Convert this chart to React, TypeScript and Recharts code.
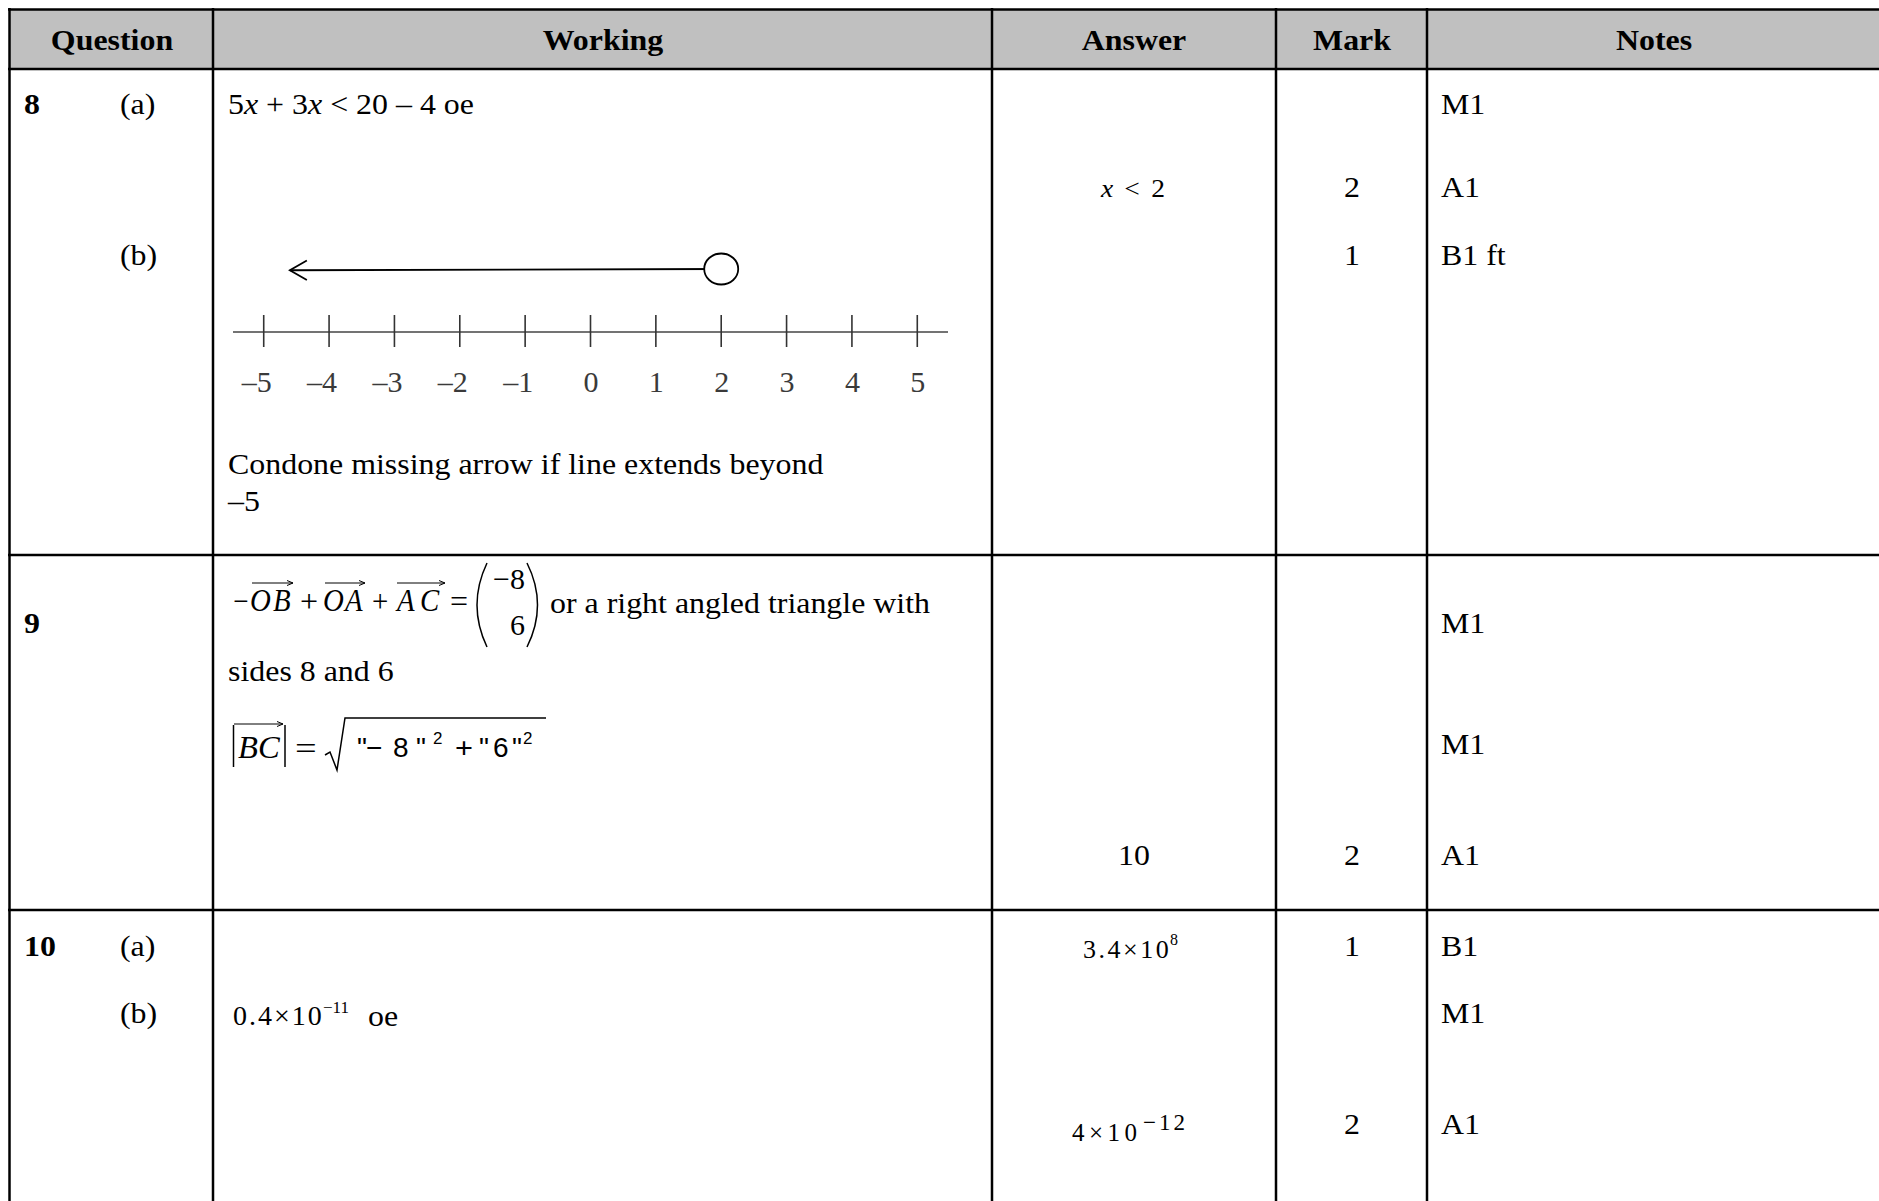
import React from 'react';
import { LineChart, Line, XAxis, YAxis } from 'recharts';

// number line values
const tickValues = [-5, -4, -3, -2, -1, 0, 1, 2, 3, 4, 5];
const tickLabels = ['–5', '–4', '–3', '–2', '–1', '0', '1', '2', '3', '4', '5'];
// solution set x < 2 : arrow tip on the left, open circle at 2
const solutionX = [-4.6, 2];
const solutionY = [0.98, 1];

const headers = ['Question', 'Working', 'Answer', 'Mark', 'Notes'];
const marks8 = ['2', '1'];
const notes8 = ['M1', 'A1', 'B1 ft'];
const notes9 = ['M1', 'M1', 'A1'];
const notes10 = ['B1', 'M1', 'A1'];

const lineData = solutionX.map((x, i) => ({ x, y: solutionY[i] }));

const SERIF = '"Liberation Serif", "Times New Roman", serif';
const SANS = '"Liberation Sans", Arial, sans-serif';

// simple absolutely placed text, y = vertical centre
const T = ({ x, y, children, size = 29, bold = false, italic = false, anchor = 'start', sx = 1.1, family = SERIF, ls = 0 }: any) => {
  const tx = anchor === 'middle' ? '-50%' : anchor === 'end' ? '-100%' : '0';
  const origin = anchor === 'middle' ? 'center' : anchor === 'end' ? 'right' : 'left';
  return (
    <div
      style={{
        position: 'absolute', left: x, top: y, whiteSpace: 'nowrap', fontFamily: family,
        fontSize: size, lineHeight: 1, fontWeight: bold ? 700 : 400, fontStyle: italic ? 'italic' : 'normal',
        color: '#000', letterSpacing: ls, transform: `translate(${tx}, -50%) scaleX(${sx})`, transformOrigin: origin,
      }}
    >
      {children}
    </div>
  );
};

const NumberTick = (props: any) => {
  const { x, y, payload } = props;
  const idx = tickValues.indexOf(payload.value);
  return (
    <g>
      <line x1={x} x2={x} y1={y - 17} y2={y + 15} stroke="#333" strokeWidth={1.6} />
      <text x={x + 8} y={y + 60} textAnchor="end" fontFamily={SERIF} fontSize={30} fill="#3a3a3a">
        {tickLabels[idx]}
      </text>
    </g>
  );
};

const SolutionDot = (props: any) => {
  const { cx, cy, index } = props;
  if (index === 0) {
    return <path key="tip" d={`M${cx + 17},${cy - 9.7} L${cx},${cy} L${cx + 17},${cy + 9.7}`} fill="none" stroke="#000" strokeWidth={1.8} />;
  }
  return <ellipse key="circ" cx={cx} cy={cy} rx={17} ry={15.5} fill="#fff" stroke="#000" strokeWidth={1.8} />;
};

const NumberLine = () => (
  <div style={{ position: 'absolute', left: 213, top: 230 }}>
    <LineChart width={760} height={190} data={lineData} margin={{ top: 7.5, right: 25, bottom: 28, left: 20 }}>
      <XAxis
        type="number"
        dataKey="x"
        domain={[-5.47, 5.47]}
        ticks={tickValues}
        interval={0}
        height={60}
        tickSize={0}
        tickMargin={0}
        tickLine={false}
        axisLine={{ stroke: '#444', strokeWidth: 1.7 }}
        tick={<NumberTick />}
      />
      <YAxis hide domain={[0, 1.5]} />
      <Line dataKey="y" stroke="#000" strokeWidth={1.8} dot={<SolutionDot />} activeDot={false} isAnimationActive={false} />
    </LineChart>
  </div>
);

const headerX = [111.5, 602.5, 1134, 1351.5, 1653.5];
const vLines = [9.5, 213, 992, 1276, 1427];
const hLines = [9.5, 69, 555, 910];

const OverArrow = ({ x1, x2, y }: any) => (
  <g stroke="#000" strokeWidth={1} fill="none">
    <line x1={x1} x2={x2} y1={y} y2={y} />
    <path d={`M${x2 - 6},${y - 2.5} L${x2},${y} L${x2 - 6},${y + 2.5}`} />
  </g>
);

export default function App() {
  return (
    <div style={{ position: 'absolute', left: 0, top: 0, width: 1879, height: 1201, background: '#fff', overflow: 'hidden' }}>
      <svg width={1879} height={1201} style={{ position: 'absolute', left: 0, top: 0 }}>
        <rect x={9.5} y={9.5} width={1880} height={59.5} fill="#c0c0c0" />
        {hLines.map((y) => (
          <line key={'h' + y} x1={8} x2={1880} y1={y} y2={y} stroke="#000" strokeWidth={2.5} />
        ))}
        {vLines.map((x) => (
          <line key={'v' + x} x1={x} x2={x} y1={8} y2={1201} stroke="#000" strokeWidth={2.5} />
        ))}
        {/* vector arrows */}
        <OverArrow x1={252} x2={293} y={583} />
        <OverArrow x1={325} x2={365} y={583} />
        <OverArrow x1={397} x2={445} y={583} />
        <OverArrow x1={234} x2={283} y={724} />
        {/* column vector brackets */}
        <path d="M487,563 Q467,605 487,647" fill="none" stroke="#000" strokeWidth={1.5} />
        <path d="M527,563 Q548,605 527,647" fill="none" stroke="#000" strokeWidth={1.5} />
        {/* modulus bars */}
        <line x1={233.5} x2={233.5} y1={725} y2={767} stroke="#000" strokeWidth={1.5} />
        <line x1={285} x2={285} y1={725} y2={767} stroke="#000" strokeWidth={1.5} />
        {/* square root */}
        <path d="M325,755 L330,752 L337,770 L345,718 L546,718" fill="none" stroke="#000" strokeWidth={1.5} />
      </svg>

      {headers.map((h, i) => (
        <T key={h} x={headerX[i]} y={40} bold anchor="middle">{h}</T>
      ))}

      {/* question 8 */}
      <T x={24} y={104} bold>8</T>
      <T x={120} y={104}>(a)</T>
      <T x={228} y={104}>5<i>x</i> + 3<i>x</i> &lt; 20 – 4 oe</T>
      <T x={120} y={255}>(b)</T>
      <T x={1134} y={188} size={25} anchor="middle" ls={2}><i>x</i> &lt; 2</T>
      <T x={1351.5} y={187} anchor="middle">{marks8[0]}</T>
      <T x={1351.5} y={255} anchor="middle">{marks8[1]}</T>
      <T x={1441} y={104}>{notes8[0]}</T>
      <T x={1441} y={187}>{notes8[1]}</T>
      <T x={1441} y={255}>{notes8[2]}</T>
      <T x={228} y={464}>Condone missing arrow if line extends beyond</T>
      <T x={228} y={501}>–5</T>
      <NumberLine />

      {/* question 9 */}
      <T x={24} y={623} bold>9</T>
      <T x={233} y={601} size={32} sx={0.85}>−</T>
      <T x={250} y={600} size={32} italic sx={0.9}>O</T>
      <T x={273} y={600} size={32} italic sx={0.9}>B</T>
      <T x={300} y={601} size={32} sx={1}>+</T>
      <T x={323} y={600} size={32} italic sx={0.9}>O</T>
      <T x={345} y={600} size={32} italic sx={0.9}>A</T>
      <T x={372} y={601} size={32} sx={0.9}>+</T>
      <T x={397} y={600} size={32} italic sx={0.9}>A</T>
      <T x={420} y={600} size={32} italic sx={0.9}>C</T>
      <T x={450} y={601} size={32} sx={1}>=</T>
      <T x={525} y={579} size={30} anchor="end" sx={1}>−8</T>
      <T x={525} y={625} size={30} anchor="end" sx={1}>6</T>
      <T x={550} y={603}>or a right angled triangle with</T>
      <T x={228} y={671}>sides 8 and 6</T>
      <T x={238} y={747} size={32} italic sx={1.02}>BC</T>
      <T x={295} y={748} size={32} sx={1.2}>=</T>
      <T x={357} y={748} size={28} family={SANS} sx={1}>"</T>
      <T x={366} y={748} size={28} family={SANS} sx={1}>−</T>
      <T x={393} y={748} size={28} family={SANS} sx={1}>8</T>
      <T x={416} y={748} size={28} family={SANS} sx={1}>"</T>
      <T x={433} y={738} size={17} family={SANS} sx={1}>2</T>
      <T x={455} y={748} size={28} family={SANS} sx={1.1}>+</T>
      <T x={479} y={748} size={28} family={SANS} sx={1}>"</T>
      <T x={493} y={748} size={28} family={SANS} sx={1}>6</T>
      <T x={512} y={748} size={28} family={SANS} sx={1}>"</T>
      <T x={523} y={738} size={17} family={SANS} sx={1}>2</T>
      <T x={1134} y={855} anchor="middle">10</T>
      <T x={1351.5} y={855} anchor="middle">2</T>
      <T x={1441} y={623}>{notes9[0]}</T>
      <T x={1441} y={744}>{notes9[1]}</T>
      <T x={1441} y={855}>{notes9[2]}</T>

      {/* question 10 */}
      <T x={24} y={946} bold>10</T>
      <T x={120} y={946}>(a)</T>
      <T x={120} y={1013}>(b)</T>
      <T x={1083} y={950} size={26} sx={1} ls={2.5}>3.4×10</T>
      <T x={1170} y={940} size={16} sx={1}>8</T>
      <T x={1351.5} y={946} anchor="middle">1</T>
      <T x={1441} y={946}>{notes10[0]}</T>
      <T x={233} y={1016} size={28} sx={1} ls={2}>0.4×10</T>
      <T x={323} y={1007} size={17} sx={1}>−11</T>
      <T x={368} y={1016}>oe</T>
      <T x={1441} y={1013}>{notes10[1]}</T>
      <T x={1072} y={1132} size={25} sx={1} ls={4.5}>4×10</T>
      <T x={1143} y={1122} size={23} sx={1} ls={3}>−12</T>
      <T x={1351.5} y={1124} anchor="middle">2</T>
      <T x={1441} y={1124}>{notes10[2]}</T>
    </div>
  );
}
